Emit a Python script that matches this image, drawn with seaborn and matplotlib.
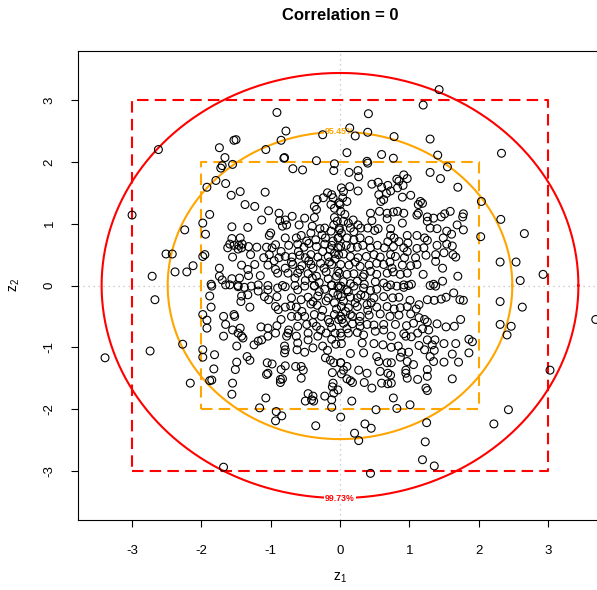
import numpy as np
import matplotlib
matplotlib.use("Agg")
import matplotlib.pyplot as plt
import seaborn as sns

# ---------------- data (z1, z2) ----------------
quad_upper_left = [
    (-1.70, 1.94), (-1.72, 1.90), (-1.55, 1.96), (-0.81, 2.06), (-0.34, 2.02), (-0.08, 1.97),
    (-0.68, 1.89), (-0.54, 1.87), (-0.09, 1.86), (-1.79, 1.70), (-1.65, 1.65), (-1.92, 1.59),
    (-1.44, 1.52), (-1.08, 1.51), (-1.57, 1.46), (-1.37, 1.31), (-1.23, 1.28), (-0.18, 1.50),
    (-0.12, 1.47), (-0.33, 1.39), (-0.24, 1.42), (-0.10, 1.42), (-0.13, 1.31), (-0.37, 1.28),
    (-0.34, 1.23), (-0.08, 1.25), (-0.01, 1.34), (-1.88, 1.15), (-1.03, 1.21), (-0.88, 1.17),
    (-1.13, 1.06), (-0.87, 1.05), (-0.79, 1.06), (-0.69, 1.12), (-0.51, 1.09), (-0.37, 1.10),
    (-0.08, 1.10), (-0.04, 1.04), (-0.09, 0.98), (-1.98, 1.01), (-1.56, 0.95), (-1.33, 0.94),
    (-0.83, 0.96), (-0.77, 0.98), (-0.59, 0.98), (-0.40, 0.96), (-0.29, 0.92), (-0.22, 0.93),
    (-0.13, 0.88), (-0.01, 0.90), (-1.94, 0.83), (-1.00, 0.85), (-1.02, 0.81), (-0.79, 0.77),
    (-0.63, 0.77), (-0.56, 0.81), (-0.42, 0.85), (-0.35, 0.74), (-0.21, 0.77), (-0.03, 0.77),
    (-1.56, 0.76), (-1.44, 0.77), (-1.59, 0.67), (-1.53, 0.65), (-1.46, 0.65), (-1.41, 0.67),
    (-1.62, 0.61), (-1.47, 0.59), (-1.42, 0.61), (-1.32, 0.63), (-1.20, 0.62), (-1.06, 0.62),
    (-0.98, 0.61), (-0.93, 0.66), (-0.74, 0.65), (-0.61, 0.67), (-0.52, 0.62), (-0.45, 0.68),
    (-0.34, 0.63), (-0.22, 0.67), (-0.12, 0.65), (-0.03, 0.61), (-1.95, 0.50), (-1.98, 0.47),
    (-1.55, 0.46), (-1.29, 0.50), (-1.02, 0.50), (-0.88, 0.45), (-0.79, 0.47), (-0.69, 0.46),
    (-0.58, 0.49), (-0.50, 0.45), (-0.42, 0.50), (-0.32, 0.46), (-0.17, 0.47), (-0.07, 0.43),
    (-1.74, 0.28), (-1.42, 0.33), (-1.33, 0.26), (-1.23, 0.34), (-1.04, 0.33), (-0.93, 0.26),
    (-0.79, 0.28), (-0.68, 0.34), (-0.58, 0.26), (-0.42, 0.34), (-0.39, 0.28), (-0.23, 0.28),
    (-0.12, 0.34), (-0.03, 0.23), (-0.05, 0.15), (-1.74, 0.15), (-1.70, 0.09), (-1.56, 0.11),
    (-1.45, 0.12), (-1.32, 0.16), (-1.15, 0.16), (-0.90, 0.20), (-0.75, 0.20), (-0.61, 0.20),
    (-0.46, 0.19), (-0.34, 0.15), (-0.17, 0.11), (-1.86, 0.02), (-1.59, 0.01), (-1.47, 0.00),
    (-1.18, 0.01), (-1.04, 0.00), (-0.83, 0.00), (-0.37, -0.01), (-0.12, 0.01), (-0.03, -0.01),
    (-0.25, 0.55), (-0.45, 0.40), (-0.15, 0.38), (-0.60, 0.55), (-0.30, 0.05), (-0.50, 0.08),
    (-0.20, 0.22), (-0.08, 0.52), (-0.65, 0.12), (-0.85, 0.55), (-0.28, 0.36), (-0.55, 0.32),
    (-0.14, 0.58), (-0.40, 0.12), (-0.70, 0.38), (-0.95, 0.40), (-0.10, 0.72), (-0.48, 0.72),
    (-0.26, 0.82), (-1.10, 0.45),
]

quad_upper_right = [
    (0.39, 2.01), (0.13, 1.83), (0.26, 1.86), (0.27, 1.76), (0.92, 1.79), (0.82, 1.72),
    (0.97, 1.73), (1.30, 1.83), (1.55, 1.92), (1.45, 1.73), (1.70, 1.59), (2.04, 1.36),
    (0.02, 1.58), (0.14, 1.60), (0.05, 1.52), (0.26, 1.53), (0.46, 1.64), (0.55, 1.67),
    (0.60, 1.59), (0.69, 1.62), (0.73, 1.53), (0.85, 1.69), (0.83, 1.58), (0.91, 1.62),
    (0.04, 1.42), (0.10, 1.36), (0.00, 1.31), (0.56, 1.47), (0.63, 1.39), (0.67, 1.49),
    (0.59, 1.36), (0.90, 1.43), (1.02, 1.46), (1.16, 1.36), (1.19, 1.33), (1.13, 1.31),
    (0.01, 1.20), (0.07, 1.15), (0.44, 1.17), (0.57, 1.20), (0.68, 1.17), (0.77, 1.19),
    (0.83, 1.20), (0.92, 1.17), (1.13, 1.17), (1.11, 1.14), (1.26, 1.11), (1.35, 1.09),
    (1.46, 1.11), (1.51, 1.16), (1.59, 1.20), (1.78, 1.16), (1.77, 1.11), (0.05, 1.04),
    (0.12, 1.01), (0.19, 1.06), (0.26, 0.98), (0.46, 1.05), (0.68, 1.08), (0.90, 1.01),
    (1.26, 1.04), (1.30, 0.93), (1.40, 0.92), (1.69, 0.98), (1.54, 0.88), (-0.01, 0.93),
    (0.02, 0.85), (0.15, 0.93), (0.20, 0.87), (0.30, 0.93), (0.40, 0.93), (0.50, 0.89),
    (0.55, 0.92), (0.73, 0.92), (0.97, 0.81), (1.11, 0.81), (1.22, 0.77), (1.26, 0.73),
    (1.49, 0.77), (1.61, 0.83), (1.78, 0.90), (2.03, 0.79), (-0.02, 0.77), (0.10, 0.77),
    (0.20, 0.74), (0.29, 0.77), (0.42, 0.73), (0.73, 0.81), (0.78, 0.77), (0.69, 0.71),
    (0.85, 0.71), (0.98, 0.69), (1.21, 0.61), (1.40, 0.65), (1.54, 0.67), (1.62, 0.64),
    (0.01, 0.63), (0.09, 0.65), (0.16, 0.61), (0.25, 0.62), (0.33, 0.65), (0.44, 0.61),
    (0.54, 0.65), (0.64, 0.61), (0.77, 0.63), (0.92, 0.61), (0.97, 0.55), (1.11, 0.60),
    (1.24, 0.49), (1.38, 0.50), (1.50, 0.53), (1.63, 0.50), (1.67, 0.46), (-0.02, 0.50),
    (0.05, 0.51), (0.15, 0.47), (0.26, 0.45), (0.38, 0.47), (0.49, 0.50), (0.58, 0.46),
    (0.73, 0.50), (0.80, 0.47), (0.93, 0.45), (1.09, 0.45), (1.38, 0.39), (1.48, 0.28),
    (0.01, 0.34), (0.13, 0.33), (0.22, 0.38), (0.29, 0.31), (0.42, 0.33), (0.53, 0.36),
    (0.63, 0.34), (0.72, 0.38), (0.75, 0.28), (0.90, 0.33), (1.02, 0.32), (1.11, 0.34),
    (-0.01, 0.20), (0.10, 0.18), (0.20, 0.19), (0.33, 0.14), (0.35, 0.18), (0.44, 0.23),
    (0.53, 0.18), (0.68, 0.20), (0.77, 0.22), (0.87, 0.18), (0.97, 0.20), (1.20, 0.18),
    (1.70, 0.15), (0.05, 0.06), (0.15, 0.03), (0.25, 0.07), (0.35, 0.02), (0.51, 0.06),
    (0.63, 0.04), (0.73, 0.01), (0.92, 0.01), (1.03, 0.02), (1.35, 0.02), (1.48, 0.07),
]

quad_lower_left = [
    (-1.85, -0.01), (-1.65, 0.01), (-1.47, -0.02), (-1.38, -0.03), (-1.28, -0.01), (-1.18, -0.09),
    (-1.04, -0.07), (-0.90, -0.04), (-0.79, -0.02), (-0.65, -0.00), (-0.61, -0.07), (-0.51, -0.01),
    (-0.37, -0.00), (-0.22, -0.06), (-0.12, -0.00), (-0.01, -0.04), (-1.88, -0.17), (-1.86, -0.35),
    (-1.42, -0.17), (-1.33, -0.15), (-1.43, -0.26), (-1.30, -0.35), (-1.09, -0.18), (-1.03, -0.23),
    (-0.91, -0.18), (-0.93, -0.34), (-0.89, -0.39), (-0.79, -0.35), (-0.71, -0.33), (-0.63, -0.35),
    (-0.56, -0.23), (-0.46, -0.19), (-0.39, -0.26), (-0.32, -0.17), (-0.17, -0.20), (-0.08, -0.28),
    (-0.03, -0.15), (-1.98, -0.47), (-1.92, -0.56), (-1.68, -0.50), (-1.52, -0.50), (-1.53, -0.47),
    (-1.92, -0.69), (-1.65, -0.63), (-1.55, -0.72), (-1.44, -0.69), (-1.47, -0.77), (-1.40, -0.85),
    (-1.42, -0.82), (-1.14, -0.67), (-1.04, -0.69), (-0.91, -0.65), (-0.74, -0.72), (-0.61, -0.66),
    (-0.48, -0.63), (-0.39, -0.60), (-0.27, -0.50), (-0.17, -0.55), (-0.08, -0.47), (-0.61, -0.50),
    (-0.51, -0.50), (-0.37, -0.47), (-0.70, -0.50), (-0.85, -0.55), (-1.68, -0.82), (-1.49, -0.98),
    (-1.24, -0.96), (-1.18, -0.90), (-1.13, -0.88), (-1.04, -0.82), (-0.93, -0.77), (-0.77, -0.82),
    (-0.75, -0.77), (-0.63, -0.82), (-0.46, -0.77), (-0.32, -0.82), (-0.20, -0.77), (-0.12, -0.87),
    (-0.07, -0.77), (0.02, -0.82), (-0.34, -0.66), (-1.98, -1.04), (-1.98, -1.16), (-1.81, -1.12),
    (-1.34, -1.15), (-1.30, -1.21), (-0.80, -0.98), (-0.79, -1.04), (-0.80, -1.09), (-0.61, -0.93),
    (-0.62, -1.04), (-0.51, -1.08), (-0.39, -1.01), (-0.25, -0.98), (-0.21, -1.17), (-0.14, -1.21),
    (-0.09, -1.25), (0.01, -1.25), (-0.46, -0.88), (-1.82, -1.35), (-1.49, -1.24), (-1.51, -1.36),
    (-1.05, -1.25), (-0.98, -1.27), (-1.04, -1.42), (-1.06, -1.44), (-0.85, -1.36), (-0.79, -1.30),
    (-0.64, -1.31), (-0.56, -1.31), (-0.53, -1.37), (-0.11, -1.41), (-1.85, -1.53), (-1.88, -1.54),
    (-1.55, -1.58), (-0.86, -1.52), (-0.86, -1.57), (-0.83, -1.51), (-0.56, -1.50), (-0.10, -1.58),
    (-0.11, -1.64), (-1.56, -1.76), (-1.07, -1.82), (-1.16, -1.98), (-0.92, -2.04), (-0.46, -1.75),
    (-0.39, -1.79), (-0.41, -1.85), (-0.50, -1.87), (-0.38, -1.87), (-0.22, -1.79), (-0.12, -1.85),
    (-0.09, -1.74), (-0.03, -1.69),
    (-0.30, -0.10), (-0.20, -0.25), (-0.10, -0.12), (-0.42, -0.30), (-0.25, -0.40), (-0.05, -0.38),
    (-0.15, -0.60), (-0.55, -0.42), (-0.70, -0.20), (-0.02, -0.55), (-0.33, -0.32), (-0.12, -0.68),
    (-0.28, -0.72), (-0.06, -0.95), (-0.18, -1.05),
]

quad_lower_right = [
    (0.01, -0.01), (0.10, -0.07), (0.20, -0.01), (0.34, -0.04), (0.44, -0.08), (0.53, -0.06),
    (0.68, -0.02), (0.82, -0.01), (0.92, -0.03), (0.99, -0.00), (1.30, -0.00), (1.38, -0.01),
    (0.02, -0.18), (0.15, -0.19), (0.25, -0.20), (0.36, -0.17), (0.49, -0.20), (0.63, -0.18),
    (0.76, -0.20), (0.85, -0.19), (1.01, -0.24), (1.14, -0.31), (1.26, -0.23), (1.36, -0.24),
    (1.46, -0.22), (1.53, -0.19), (1.64, -0.12), (1.73, -0.23), (1.78, -0.24), (0.02, -0.34),
    (0.12, -0.36), (0.25, -0.34), (0.39, -0.31), (0.53, -0.35), (0.68, -0.34), (0.78, -0.38),
    (0.87, -0.36), (0.97, -0.34), (1.10, -0.38), (1.22, -0.55), (1.40, -0.62), (1.53, -0.67),
    (1.65, -0.66), (1.74, -0.55), (0.01, -0.50), (0.15, -0.47), (0.29, -0.50), (0.42, -0.48),
    (0.58, -0.46), (0.72, -0.50), (0.85, -0.48), (1.02, -0.46), (1.14, -0.52), (1.26, -0.59),
    (0.05, -0.61), (0.18, -0.62), (0.29, -0.66), (0.39, -0.63), (0.49, -0.64), (0.63, -0.63),
    (0.80, -0.63), (0.96, -0.65), (1.06, -0.61), (1.19, -0.70), (1.28, -0.72), (1.37, -0.88),
    (0.01, -0.77), (0.12, -0.77), (0.25, -0.76), (0.34, -0.80), (0.51, -0.74), (0.63, -0.72),
    (0.74, -0.82), (0.92, -0.78), (0.95, -0.82), (1.03, -0.83), (1.12, -0.77), (1.26, -0.88),
    (1.33, -0.96), (1.36, -1.05), (1.50, -0.94), (1.67, -0.94), (1.86, -0.87), (1.91, -0.91),
    (1.86, -1.09), (1.62, -1.11), (1.71, -1.24), (0.02, -0.94), (0.15, -1.10), (0.32, -0.93),
    (0.34, -1.09), (0.49, -0.94), (0.62, -0.96), (0.74, -1.00), (0.84, -0.98), (0.89, -1.08),
    (0.99, -1.08), (1.14, -0.97), (1.22, -1.04), (1.30, -1.15), (1.35, -1.23), (1.50, -1.24),
    (0.01, -1.25), (0.10, -1.31), (0.53, -1.15), (0.56, -1.23), (0.68, -1.25), (0.74, -1.25),
    (0.87, -1.16), (0.97, -1.23), (1.06, -1.28), (1.26, -1.36), (0.05, -1.37), (0.02, -1.43),
    (0.27, -1.37), (0.39, -1.42), (0.58, -1.39), (0.69, -1.42), (0.73, -1.45), (0.95, -1.37),
    (0.95, -1.42), (0.97, -1.50), (1.12, -1.52), (1.26, -1.47), (1.62, -1.51), (0.10, -1.51),
    (0.15, -1.54), (0.18, -1.57), (0.35, -1.57), (0.46, -1.66), (0.60, -1.58), (0.69, -1.59),
    (0.74, -1.58), (1.24, -1.66), (1.26, -1.70), (0.17, -1.87), (0.77, -1.82), (0.82, -1.99),
    (0.52, -2.01),
    (0.05, -0.25), (0.12, -0.10), (0.22, -0.28), (0.30, -0.15), (0.08, -0.42), (0.40, -0.40),
    (0.18, -0.50), (0.03, -0.55), (0.28, -0.58), (0.45, -0.28), (0.10, -0.70),
]

outer_top = [
    (1.43, 3.17), (1.20, 2.92), (-0.91, 2.80), (0.41, 2.78), (-0.78, 2.50), (0.14, 2.55),
    (0.22, 2.42), (0.40, 2.48), (-0.25, 2.44), (0.78, 2.41), (1.30, 2.37), (-0.85, 2.35),
    (-1.53, 2.35), (-1.50, 2.36), (-1.74, 2.23), (-2.62, 2.20), (-1.07, 2.20), (-1.66, 2.07),
    (-0.80, 2.07), (0.10, 2.15), (0.60, 2.12), (0.77, 2.06), (1.41, 2.11), (2.33, 2.14),
    (0.40, 1.98),
]

outer_bottom = [
    (-0.84, -2.11), (-0.93, -2.19), (0.01, -2.13), (1.01, -1.93), (2.43, -2.01), (-0.35, -2.27),
    (0.36, -2.24), (0.45, -2.31), (1.25, -2.22), (2.22, -2.24), (0.21, -2.39), (0.27, -2.51),
    (1.23, -2.53), (1.19, -2.82), (1.36, -2.92), (-1.68, -2.94), (0.44, -3.04), (-0.12, -1.97),
]

outer_right = [
    (2.32, 1.07), (2.66, 0.84), (2.31, 0.38), (2.54, 0.38), (2.60, 0.08), (2.93, 0.18),
    (2.31, -0.26), (2.63, -0.35), (2.31, -0.63), (2.47, -0.66), (2.41, -0.80), (3.69, -0.55),
    (3.03, -1.37),
]

outer_left = [
    (-3.39, -1.17), (-3.00, 1.14), (-2.71, 0.15), (-2.67, -0.23), (-2.51, 0.51), (-2.42, 0.51),
    (-2.74, -1.06), (-2.38, 0.22), (-2.27, -0.95), (-2.24, 0.90), (-2.16, -1.58), (-2.21, 0.22),
    (-2.12, 0.32),
]

coverage_levels = [0.9545, 0.9973]
coverage_labels = ["95.45%", "99.73%"]
coverage_colors = ["orange", "red"]
box_half_widths = [2, 3]
axis_ticks = [-3, -2, -1, 0, 1, 2, 3]
title_text = "Correlation = 0"

# ---------------- figure ----------------
plt.rcParams["font.family"] = ["Liberation Sans", "DejaVu Sans"]
plt.rcParams["mathtext.fontset"] = "custom"
plt.rcParams["mathtext.rm"] = "Liberation Sans"
plt.rcParams["mathtext.it"] = "Liberation Sans:italic"

points = (quad_upper_left + quad_upper_right + quad_lower_left + quad_lower_right
          + outer_top + outer_bottom + outer_right + outer_left)
z1 = np.array([p[0] for p in points])
z2 = np.array([p[1] for p in points])

W, H = 597, 590
fig = plt.figure(figsize=(W / 100, H / 100), dpi=100)
ax = fig.add_axes([78 / W, 1 - 520 / H, 524 / W, 469 / H])
ax.set_facecolor("white")

# reference lines
ax.axhline(0, color="#BEBEBE", lw=0.9, ls=(0, (1, 3)), zorder=1)
ax.axvline(0, color="#BEBEBE", lw=0.9, ls=(0, (1, 3)), zorder=1)

# dashed boxes
for hw, col in zip(box_half_widths, coverage_colors):
    ax.plot([-hw, hw, hw, -hw, -hw], [-hw, -hw, hw, hw, -hw], color=col,
            lw=1.5, ls=(0, (5.5, 3)), zorder=2)

# coverage circles
theta = np.linspace(0, 2 * np.pi, 721)
for i, (lev, lab, col) in enumerate(zip(coverage_levels, coverage_labels, coverage_colors)):
    r = np.sqrt(-2 * np.log(1 - lev))
    ax.plot(r * np.cos(theta), r * np.sin(theta), color=col, lw=1.5, zorder=2)
    ylab = r if i == 0 else -r
    ax.text(0, ylab, lab, color=col, fontsize=6.3, fontweight="bold",
            ha="center", va="center", zorder=3,
            bbox=dict(facecolor="white", edgecolor="none", pad=0.6))

# scatter
sns.scatterplot(x=z1, y=z2, ax=ax, marker="o", s=32, facecolor="none",
                edgecolor="black", linewidth=0.8, zorder=5, legend=False)

ax.set_xlim(-3.78, 3.78)
ax.set_ylim(-3.795, 3.795)
ax.set_xticks(axis_ticks)
ax.set_yticks(axis_ticks)
ax.set_xticklabels([str(t) for t in axis_ticks])
ax.set_yticklabels([str(t) for t in axis_ticks])
ax.tick_params(direction="out", length=5, width=0.8, labelsize=9.5, colors="black")
ax.tick_params(axis="x", pad=13)
ax.tick_params(axis="y", pad=11)
for lab in ax.get_yticklabels():
    lab.set_rotation(90)
    lab.set_va("center")
for s in ax.spines.values():
    s.set_linewidth(0.8)
    s.set_color("black")
ax.set_xlabel("")
ax.set_ylabel("")

fig.text(340 / W, 1 - 578 / H, r"$\mathrm{z}_1$", ha="center", va="center", fontsize=10)
fig.text(15 / W, 1 - 285 / H, r"$\mathrm{z}_2$", ha="center", va="center", fontsize=10,
         rotation=90)
fig.text(340 / W, 1 - 15 / H, title_text, ha="center", va="center", fontsize=12,
         fontweight="bold")

fig.savefig("out.png", dpi=100)
